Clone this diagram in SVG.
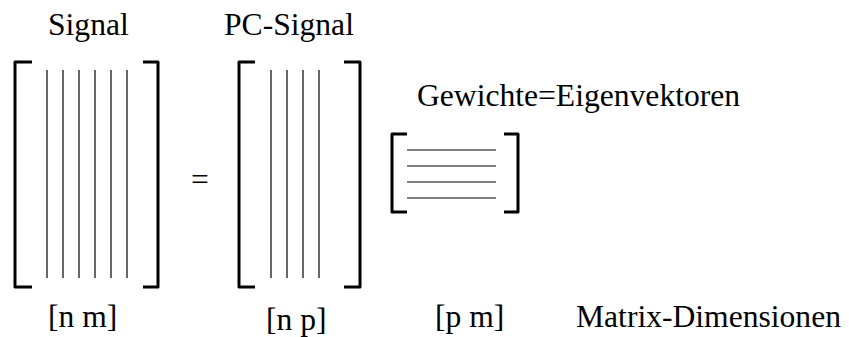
<svg xmlns="http://www.w3.org/2000/svg" width="849" height="337" viewBox="0 0 849 337">
  <style>
    .lbl { font-family: "Liberation Serif", "Times New Roman", serif; font-size: 31.6px; fill: #000; }
    .br { fill: none; stroke: #000; stroke-width: 3; stroke-linecap: butt; stroke-linejoin: round; }
    .col { stroke: #000; stroke-width: 1.2; }
  </style>
  <rect width="849" height="337" fill="#fff"/>

  <!-- Signal matrix [n m] -->
  <g id="signal">
    <text class="lbl" x="48" y="35">Signal</text>
    <path class="br" d="M32,62 H15 V287 H32"/>
    <path class="br" d="M143,62 H158 V287 H143"/>
    <line class="col" x1="47" y1="70" x2="47" y2="278"/>
    <line class="col" x1="63" y1="70" x2="63" y2="278"/>
    <line class="col" x1="79" y1="70" x2="79" y2="278"/>
    <line class="col" x1="95" y1="70" x2="95" y2="278"/>
    <line class="col" x1="111" y1="70" x2="111" y2="278"/>
    <line class="col" x1="127" y1="70" x2="127" y2="278"/>
    <text class="lbl" x="48" y="327">[n m]</text>
  </g>

  <text id="equals" class="lbl" x="191" y="190">=</text>

  <!-- PC-Signal matrix [n p] -->
  <g id="pc-signal">
    <text class="lbl" x="224" y="35">PC-Signal</text>
    <path class="br" d="M255,62 H239 V287 H255"/>
    <path class="br" d="M344,62 H360 V287 H344"/>
    <line class="col" x1="271" y1="70" x2="271" y2="278"/>
    <line class="col" x1="287" y1="70" x2="287" y2="278"/>
    <line class="col" x1="303" y1="70" x2="303" y2="278"/>
    <line class="col" x1="319" y1="70" x2="319" y2="278"/>
    <text class="lbl" x="266" y="330">[n p]</text>
  </g>

  <!-- Weight matrix [p m] -->
  <g id="weights">
    <text class="lbl" x="417" y="106">Gewichte=Eigenvektoren</text>
    <path class="br" d="M407,134 H392 V212 H407"/>
    <path class="br" d="M504,134 H518 V212 H504"/>
    <line class="col" x1="407" y1="150" x2="496" y2="150"/>
    <line class="col" x1="407" y1="166" x2="496" y2="166"/>
    <line class="col" x1="407" y1="182" x2="496" y2="182"/>
    <line class="col" x1="407" y1="198" x2="496" y2="198"/>
    <text class="lbl" x="435" y="327">[p m]</text>
  </g>

  <text id="dims" class="lbl" x="576" y="327">Matrix-Dimensionen</text>
</svg>
